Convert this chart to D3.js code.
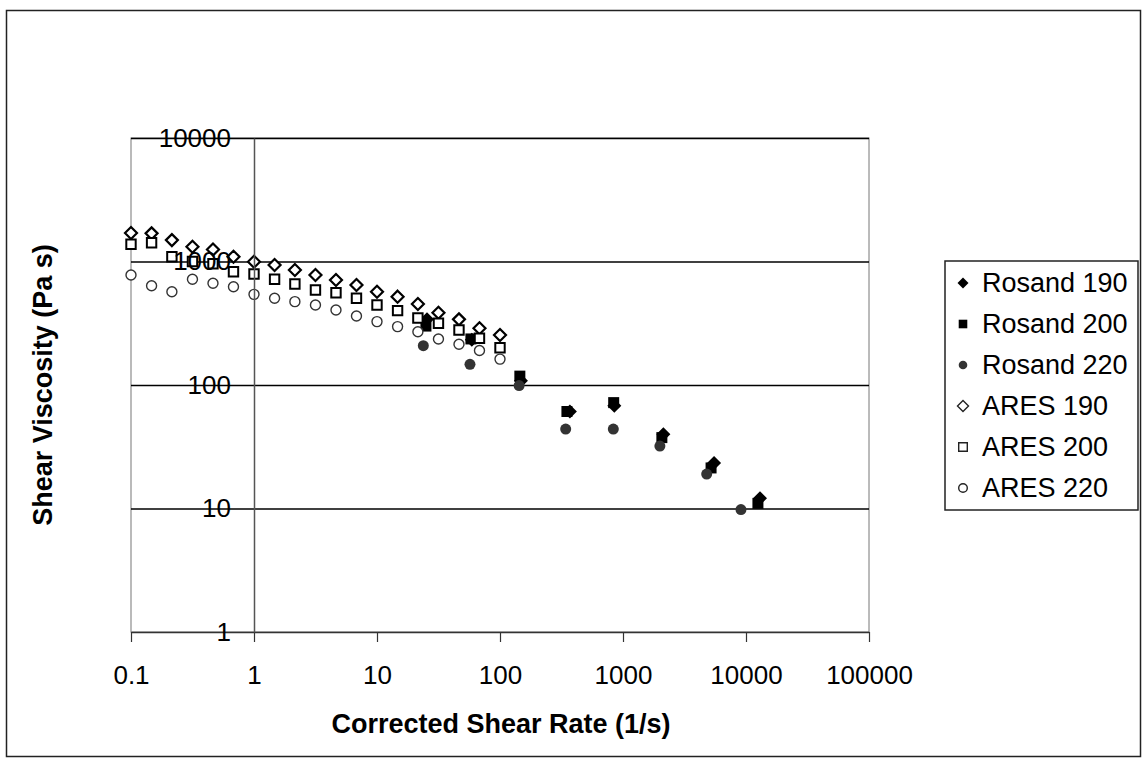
<!DOCTYPE html>
<html>
<head>
<meta charset="utf-8">
<script src="https://cdn.jsdelivr.net/npm/d3@7"></script>
<style>
body { margin: 0; background: #fff; }
text { font-family: "Liberation Sans", Arial, sans-serif; fill: #000; }
</style>
</head>
<body>
<div id="chart"></div>
<script>
// tick values of both log axes
var rateTicks = [0.1, 1, 10, 100, 1000, 10000, 100000],
    viscTicks = [1, 10, 100, 1000, 10000];

// ARES (oscillatory) data, one shared rate grid
var aresRate = [0.1, 0.147, 0.215, 0.316, 0.464, 0.681, 1, 1.47, 2.15, 3.16, 4.64, 6.81, 10, 14.7, 21.5, 31.6, 46.4, 68.1, 100];
var ares190 = [1700, 1690, 1490, 1318, 1250, 1094, 996, 937, 853, 778, 708, 645, 569, 519, 453, 385, 340, 288, 254];
var ares200 = [1380, 1420, 1094, 1000, 960, 827, 792, 718, 657, 588, 559, 504, 444, 400, 349, 316, 279, 239, 200];
var ares220 = [778, 637, 569, 718, 666, 625, 542, 504, 473, 444, 405, 362, 326, 297, 270, 236, 214, 190, 162];

// Rosand (capillary) data
var rosand190Rate = [25.5, 59, 148, 370, 850, 2130, 5500, 13000],
    rosand190 = [340, 232, 108, 61, 68, 40, 23.4, 12.1];
var rosand200Rate = [25, 58, 145, 350, 840, 2070, 5200, 12500],
    rosand200 = [300, 236, 118, 61, 72, 37.5, 21.3, 11.0];
var rosand220Rate = [23.8, 57, 143, 342, 834, 1995, 4790, 9100],
    rosand220 = [208, 147, 99, 44, 44, 32, 19, 9.8];

var series = [
    {name: "Rosand 190", x: rosand190Rate, y: rosand190, shape: "diamond", size: 7, fill: "#000", stroke: "none", sw: 0},
    {name: "Rosand 200", x: rosand200Rate, y: rosand200, shape: "square", size: 5.5, fill: "#000", stroke: "none", sw: 0},
    {name: "Rosand 220", x: rosand220Rate, y: rosand220, shape: "circle", size: 5.5, fill: "#333", stroke: "none", sw: 0},
    {name: "ARES 190", x: aresRate, y: ares190, shape: "diamond", size: 6, fill: "#fff", stroke: "#000", sw: 2.2},
    {name: "ARES 200", x: aresRate, y: ares200, shape: "square", size: 4.7, fill: "#fff", stroke: "#000", sw: 2},
    {name: "ARES 220", x: aresRate, y: ares220, shape: "circle", size: 5, fill: "#fff", stroke: "#333", sw: 1.4}
];

var chartWidth = 1146,
    chartHeight = 762,
    plot = {left: 131, top: 138, right: 869, bottom: 632};

var svg = d3.select("#chart")
    .append("svg")
    .attr("width", chartWidth)
    .attr("height", chartHeight)
    .style("background", "#fff");

// outer frame
svg.append("rect")
    .attr("x", 6.5).attr("y", 10.5)
    .attr("width", 1134).attr("height", 746)
    .attr("fill", "none").attr("stroke", "#222").attr("stroke-width", 1.5);

var x = d3.scaleLog().domain([0.1, 100000]).range([plot.left, plot.right]);
var y = d3.scaleLog().domain([1, 10000]).range([plot.bottom, plot.top]);

function markerPath(shape, s) {
    if (shape == "diamond") return "M0," + (-s) + "L" + s + ",0L0," + s + "L" + (-s) + ",0Z";
    if (shape == "square") return "M" + (-s) + "," + (-s) + "h" + 2 * s + "v" + 2 * s + "h" + (-2 * s) + "Z";
    var p = d3.path();
    p.arc(0, 0, s, 0, 2 * Math.PI);
    p.closePath();
    return p.toString();
}

// plot area border
svg.append("rect")
    .attr("x", plot.left).attr("y", plot.top)
    .attr("width", plot.right - plot.left).attr("height", plot.bottom - plot.top)
    .attr("fill", "none").attr("stroke", "#777").attr("stroke-width", 1);

// horizontal gridlines
svg.append("g")
    .attr("class", "grid")
    .attr("transform", "translate(" + plot.left + ",0)")
    .call(d3.axisLeft(y).tickValues(viscTicks.slice(1)).tickSize(-(plot.right - plot.left)).tickFormat(""))
    .call(g => g.select(".domain").remove())
    .call(g => g.selectAll("line").attr("stroke", "#000").attr("stroke-width", 1.5));

// y axis crosses at rate = 1
var yAxisG = svg.append("g")
    .attr("transform", "translate(" + x(1) + ",0)")
    .call(d3.axisLeft(y).tickValues(viscTicks).tickSize(0).tickSizeOuter(0).tickPadding(23).tickFormat(d => String(d)));
yAxisG.select(".domain").attr("stroke", "#555").attr("stroke-width", 1.5);
yAxisG.selectAll("text").attr("font-size", 26).style("font-family", "'Liberation Sans', Arial, sans-serif");

// x axis along the bottom
var xAxisG = svg.append("g")
    .attr("transform", "translate(0," + plot.bottom + ")")
    .call(d3.axisBottom(x).tickValues(rateTicks).tickSize(10).tickSizeOuter(0).tickPadding(24).tickFormat(d => String(d)));
xAxisG.select(".domain").attr("stroke", "#333").attr("stroke-width", 1.5);
xAxisG.selectAll("line").attr("stroke", "#333").attr("stroke-width", 1.2);
xAxisG.selectAll("text").attr("font-size", 26).style("font-family", "'Liberation Sans', Arial, sans-serif");

// data points
series.forEach(function(s) {
    svg.append("g")
        .selectAll("path")
        .data(s.x.map((v, i) => [v, s.y[i]]))
        .enter().append("path")
        .attr("transform", d => "translate(" + x(d[0]) + "," + y(d[1]) + ")")
        .attr("d", markerPath(s.shape, s.size))
        .attr("fill", s.fill)
        .attr("stroke", s.stroke)
        .attr("stroke-width", s.sw);
});

// keep the y labels above the points
yAxisG.raise();

// axis titles
svg.append("text")
    .attr("x", 501).attr("y", 733)
    .attr("text-anchor", "middle")
    .attr("font-size", 27).attr("font-weight", "bold")
    .text("Corrected Shear Rate (1/s)");

svg.append("text")
    .attr("transform", "translate(52,385) rotate(-90)")
    .attr("text-anchor", "middle")
    .attr("font-size", 27).attr("font-weight", "bold")
    .text("Shear Viscosity (Pa s)");

// legend
var legend = svg.append("g").attr("transform", "translate(945,261)");
legend.append("rect")
    .attr("width", 193).attr("height", 249)
    .attr("fill", "#fff").attr("stroke", "#222").attr("stroke-width", 1.5);

var item = legend.selectAll("g.item")
    .data(series)
    .enter().append("g")
    .attr("class", "item")
    .attr("transform", (d, i) => "translate(0," + (22 + i * 41) + ")");

item.append("path")
    .attr("transform", "translate(18,0)")
    .attr("d", d => markerPath(d.shape, d.shape == "diamond" ? 5.5 : 4.3))
    .attr("fill", d => d.fill)
    .attr("stroke", d => d.stroke == "none" ? "none" : "#222")
    .attr("stroke-width", d => d.sw ? 1.4 : 0);

item.append("text")
    .attr("x", 37).attr("dy", "0.35em")
    .attr("font-size", 27)
    .text(d => d.name);
</script>
</body>
</html>
